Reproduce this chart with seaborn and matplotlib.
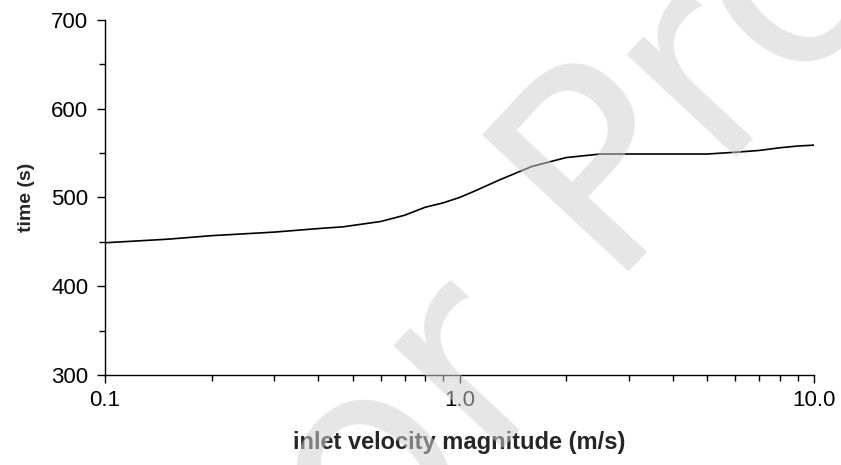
import matplotlib
matplotlib.use("Agg")
import matplotlib.pyplot as plt
from matplotlib.ticker import FixedLocator, FixedFormatter, NullFormatter, MultipleLocator
import numpy as np
import pandas as pd
import seaborn as sns

# ---- data ----
velocity = [0.1, 0.15, 0.2, 0.3, 0.4, 0.47, 0.6, 0.7, 0.8, 0.9, 1.0, 1.1, 1.3,
            1.6, 2.0, 2.5, 3.0, 4.0, 5.0, 6.0, 7.0, 8.0, 9.0, 10.0]
time_s = [449, 453, 457, 461, 465, 467, 473, 480, 489, 494, 500, 507, 520,
          535, 545, 549, 549, 549, 549, 551, 553, 556, 558, 559]
x_ticks = [0.1, 1.0, 10.0]
x_tick_labels = ["0.1", "1.0", "10.0"]
y_ticks = [300, 400, 500, 600, 700]

df = pd.DataFrame({"velocity": velocity, "time": time_s})

sns.set_style("ticks")
plt.rcParams["font.family"] = ["Liberation Sans", "DejaVu Sans"]

fig = plt.figure(figsize=(8.41, 4.65), dpi=100)
ax = fig.add_axes([105 / 841, 1 - 375 / 465, 709 / 841, 355 / 465])

sns.lineplot(data=df, x="velocity", y="time", ax=ax, color="black",
             linewidth=1.2, errorbar=None)

ax.set_xscale("log")
ax.set_xlim(0.1, 10.0)
ax.set_ylim(300, 700)
ax.xaxis.set_major_locator(FixedLocator(x_ticks))
ax.xaxis.set_major_formatter(FixedFormatter(x_tick_labels))
ax.xaxis.set_minor_locator(FixedLocator(
    [m * d for d in (0.1, 1.0) for m in range(2, 10)]))
ax.xaxis.set_minor_formatter(NullFormatter())
ax.yaxis.set_major_locator(FixedLocator(y_ticks))
ax.yaxis.set_minor_locator(MultipleLocator(50))

for s in ("top", "right"):
    ax.spines[s].set_visible(False)
for s in ("left", "bottom"):
    ax.spines[s].set_linewidth(1.0)
    ax.spines[s].set_color("black")

ax.tick_params(axis="both", which="major", direction="out", length=6,
               width=1.0, color="black", labelsize=16, labelcolor="black")
ax.tick_params(axis="both", which="minor", direction="out", length=4,
               width=1.0, color="black")
ax.tick_params(axis="x", which="major", pad=5)
ax.tick_params(axis="y", which="major", pad=6)

ax.set_xlabel("inlet velocity magnitude (m/s)", fontsize=17,
              fontweight="bold", labelpad=14)
ax.set_ylabel("time (s)", fontsize=14, fontweight="bold", labelpad=12)

# ---- watermark ----
ang = 47
wm = dict(fontsize=197, family="DejaVu Sans", color="#d0d0d0", alpha=0.53,
          rotation=ang, rotation_mode="anchor", va="baseline", zorder=10)
fig.text(602 / 841, 1 - 272 / 465, "Proof", ha="left", **wm)
fig.text(563 / 841, 1 - 381 / 465, "Author", ha="right", **wm)

fig.savefig("out.png", dpi=100)
